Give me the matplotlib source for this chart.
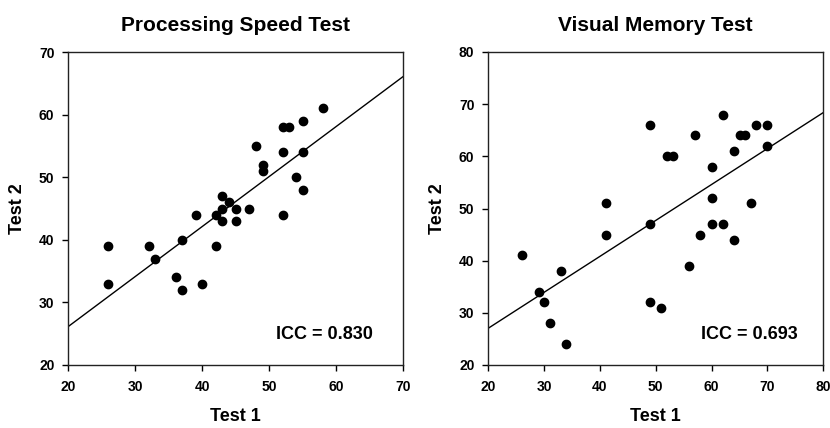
import matplotlib
matplotlib.use("Agg")
import matplotlib.pyplot as plt
import numpy as np

plt.rcParams["font.family"] = ["Liberation Sans", "DejaVu Sans"]
plt.rcParams["font.weight"] = "bold"

# Processing Speed Test
speed_t1 = [26, 26, 32, 33, 37, 36, 37, 40, 39, 42, 42, 43, 43, 43, 44,
            45, 45, 47, 48, 49, 49, 52, 53, 52, 52, 54, 55, 55, 55, 58]
speed_t2 = [39, 33, 39, 37, 40, 34, 32, 33, 44, 44, 39, 47, 45, 43, 46,
            45, 43, 45, 55, 52, 51, 58, 58, 54, 44, 50, 59, 54, 48, 61]
speed_fit = (26.15, 0.799)  # value at x=20, slope
speed_icc = "ICC = 0.830"

# Visual Memory Test
memory_t1 = [26, 29, 30, 31, 33, 34, 41, 41, 49, 49, 49, 51, 52, 53, 56,
             57, 58, 60, 60, 60, 62, 62, 64, 64, 65, 66, 67, 68, 70, 70]
memory_t2 = [41, 34, 32, 28, 38, 24, 51, 45, 66, 47, 32, 31, 60, 60, 39,
             64, 45, 58, 52, 47, 68, 47, 61, 44, 64, 64, 51, 66, 66, 62]
memory_fit = (27.05, 0.689)
memory_icc = "ICC = 0.693"


def panel(ax, x, y, fit, icc, icc_x, title, xlim, ylim):
    ax.plot(x, y, "o", color="black", ms=6, zorder=3)
    xs = np.array(xlim, dtype=float)
    ax.plot(xs, fit[0] + fit[1] * (xs - 20), color="black", lw=1.0, zorder=2)
    ax.set_xlim(xlim)
    ax.set_ylim(ylim)
    ax.set_xticks(np.arange(xlim[0], xlim[1] + 1, 10))
    ax.set_yticks(np.arange(ylim[0], ylim[1] + 1, 10))
    ax.tick_params(direction="out", length=4, width=1, labelsize=10,
                   top=False, right=False)
    ax.tick_params(axis="x", pad=7)
    ax.tick_params(axis="y", pad=6)
    for sp in ax.spines.values():
        sp.set_linewidth(1.0)
        sp.set_color("#222222")
    ax.set_title(title, fontsize=15, fontweight="bold", pad=15)
    ax.set_xlabel("Test 1", fontsize=13, fontweight="bold", labelpad=10)
    ax.set_ylabel("Test 2", fontsize=13, fontweight="bold", labelpad=9)
    ax.text(icc_x, 0.096, icc, transform=ax.transAxes, ha="right",
            va="center", fontsize=13, fontweight="bold")


fig = plt.figure(figsize=(8.3, 4.28), dpi=100)
ax1 = fig.add_axes([68.3 / 830, 1 - 365 / 428, 335 / 830, 313 / 428])
ax2 = fig.add_axes([488.3 / 830, 1 - 365 / 428, 335 / 830, 313 / 428])
panel(ax1, speed_t1, speed_t2, speed_fit, speed_icc, 0.91,
      "Processing Speed Test", (20, 70), (20, 70))
panel(ax2, memory_t1, memory_t2, memory_fit, memory_icc, 0.924,
      "Visual Memory Test", (20, 80), (20, 80))

fig.savefig("out.png", dpi=100)
